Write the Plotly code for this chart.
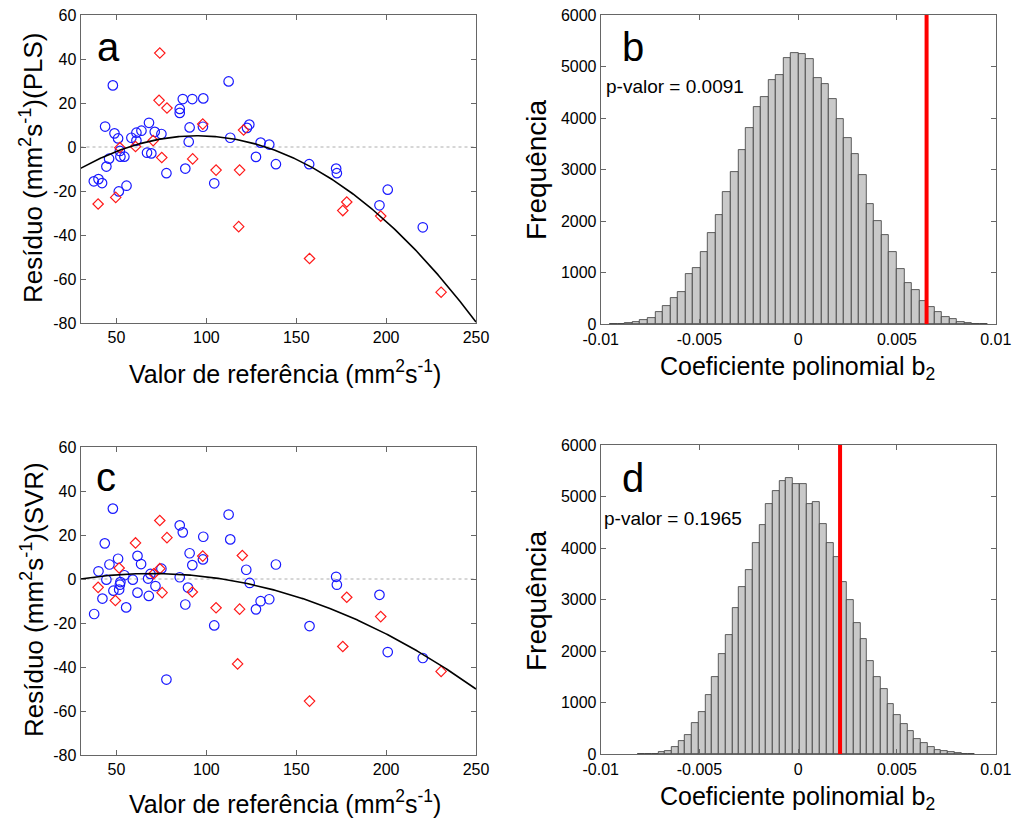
import numpy as np
import plotly.graph_objects as go

W, H = 1013, 819

# ---------------- Panel a (PLS residuals) ----------------
pls_blue_x = [48, 112.4, 86.9, 92.2, 98.3, 85.2, 85.2, 43.7, 48.9, 50.9, 68.1, 61.1, 63.9, 58.3, 61.1,
              71.3, 75, 90.7, 98.1, 90.2, 113.3, 122.6, 123.9, 130.2, 135, 127.6, 138.7, 157.2, 172.2,
              172.6, 67, 69.4, 51.9, 52.2, 54.4, 45.9, 44.4, 37.4, 40, 42, 55.6, 51.3, 77.8, 88.3,
              104.4, 196.3, 200.9, 220.4]
pls_blue_y = [28.0, 29.8, 21.8, 21.8, 22.1, 17.3, 15.5, 9.3, 6.2, 3.9, 11.0, 6.5, 7.4, 4.2, 2.9,
              6.9, 5.9, 8.9, 9.2, 2.4, 4.2, 8.7, 10.2, 2.0, 1.1, -4.5, -7.8, -7.8, -9.8,
              -11.9, -2.6, -2.9, -1.8, -4.4, -4.4, -5.3, -8.9, -15.6, -14.6, -16.4, -17.6, -20.2, -11.9, -9.8,
              -16.5, -26.5, -19.4, -36.5]
pls_red_x = [74.1, 73.7, 78.1, 98, 120.7, 70.4, 60.6, 51.9, 75.2, 92.4, 105.4, 118.5, 39.8, 49.6,
             118, 178.1, 175.9, 197, 157.4, 230.6]
pls_red_y = [42.7, 21.2, 17.7, 10.4, 7.7, 2.9, 0.2, -0.3, -4.8, -5.4, -10.5, -10.5, -25.9, -22.9,
             -36.2, -25.0, -28.9, -31.4, -50.7, -66.0]
pls_fit_coef = [-0.00352, 0.668, -26.6]   # b2, b1, b0

# ---------------- Panel c (SVR residuals) ----------------
svr_blue_x = [48, 112.4, 85.2, 86.9, 98.3, 113.3, 43.5, 90.7, 61.7, 50.9, 46.1, 63.7, 92.2, 98.1,
              138.7, 122.2, 75, 40, 54.4, 68.9, 67.6, 59.1, 44.4, 52.2, 51.9, 85.2, 172.2, 172.6,
              124.1, 71.7, 89.8, 48.3, 51.5, 61.7, 42.2, 68, 130.2, 135, 127.6, 55.4, 88.3, 37.6,
              104.4, 157.4, 196.3, 200.9, 220.4, 77.8]
svr_blue_y = [32.0, 29.3, 24.4, 21.2, 19.2, 18.0, 16.2, 11.7, 10.5, 9.2, 6.6, 6.8, 6.3, 8.9,
              6.6, 4.2, 4.7, 3.5, 1.7, 2.3, 0.2, -0.3, -0.3, -1.4, -2.6, 0.8, 1.0, -2.6,
              -1.8, -3.2, -3.9, -5.3, -4.8, -6.2, -8.9, -7.7, -10.1, -9.2, -13.8, -12.9, -11.6, -15.9,
              -21.1, -21.4, -7.2, -33.2, -35.9, -45.7]
svr_red_x = [74.1, 78.1, 60.6, 120, 98, 51.5, 74.1, 70.7, 39.8, 92.2, 75.4, 49.4, 105.4, 118.5,
             178.1, 197, 175.9, 117.4, 157.4, 230.6]
svr_red_y = [26.6, 18.8, 16.4, 10.7, 10.4, 5.0, 4.7, 2.4, -3.8, -5.9, -6.2, -9.8, -13.1, -13.7,
             -8.3, -17.1, -30.7, -38.6, -55.5, -42.0]
svr_fit_coef = [-0.00161, 0.2235, -5.26]

# ---------------- Panel b (permutation histogram, PLS) ----------------
hist_b_counts = [10, 13, 26, 45, 78, 123, 233, 356, 504, 634, 976, 1099, 1397, 1778, 2114, 2574,
                 2955, 3382, 3815, 4209, 4403, 4746, 4837, 5160, 5270, 5250, 5140, 4785, 4669, 4377,
                 3983, 3621, 3311, 2890, 2341, 2011, 1739, 1397, 1080, 808, 672, 459, 330, 239, 142,
                 97, 39, 26, 13, 6]
hist_b_start = -0.00953
hist_b_width = 0.000382
b_observed = 0.0065
b_label = "p-valor = 0.0091"

# ---------------- Panel d (permutation histogram, SVR) ----------------
hist_d_counts = [3, 8, 15, 45, 71, 136, 250, 381, 601, 821, 1144, 1500, 1940, 2315, 2832, 3246,
                 3576, 4099, 4442, 4862, 5108, 5296, 5360, 5237, 5250, 4856, 4888, 4468, 4093, 3821,
                 3349, 2987, 2541, 2244, 1811, 1494, 1274, 970, 756, 582, 446, 297, 213, 149, 91,
                 58, 39, 19, 13, 6]
hist_d_start = -0.00811
hist_d_width = 0.000341
d_observed = 0.00212
d_label = "p-valor = 0.1965"

scatter_xticks = [50, 100, 150, 200, 250]
scatter_yticks = [60, 40, 20, 0, -20, -40, -60, -80]
hist_xticks = [-0.01, -0.005, 0, 0.005, 0.01]
hist_xticktext = ["-0.01", "-0.005", "0", "0.005", "0.01"]
hist_yticks = [0, 1000, 2000, 3000, 4000, 5000, 6000]

FONT = "Liberation Sans, Arial, sans-serif"
AXC = "#666666"


def px(x):
    return x / W


def py(y):
    return 1 - y / H


fig = go.Figure()

# domains in pixels
dom = {
    "a": ((80.5, 476), (15, 323)),
    "b": ((600.7, 995.7), (15, 324.3)),
    "c": ((80.5, 476), (447, 755)),
    "d": ((600.7, 995.7), (445, 754.3)),
}
axmap = {"a": ("x", "y", ""), "b": ("x2", "y2", "2"), "c": ("x3", "y3", "3"), "d": ("x4", "y4", "4")}


def add_scatter_panel(key, bx, by, rx, ry, coef):
    xa, ya, _ = axmap[key]
    fig.add_trace(go.Scatter(x=[30, 250], y=[0, 0], mode="lines",
                             line=dict(color="#9a9a9a", width=0.8, dash="dot"),
                             xaxis=xa, yaxis=ya, showlegend=False, hoverinfo="skip"))
    fig.add_trace(go.Scatter(x=bx, y=by, mode="markers",
                             marker=dict(symbol="circle-open", size=9.5, color="#1a1aff",
                                         line=dict(width=1.2, color="#1a1aff")),
                             xaxis=xa, yaxis=ya, showlegend=False))
    fig.add_trace(go.Scatter(x=rx, y=ry, mode="markers",
                             marker=dict(symbol="diamond-open", size=8, color="#ff1a1a",
                                         line=dict(width=1.2, color="#ff1a1a")),
                             xaxis=xa, yaxis=ya, showlegend=False))
    xs = np.linspace(30, 250, 300)
    ys = np.polyval(coef, xs)
    fig.add_trace(go.Scatter(x=xs, y=ys, mode="lines", line=dict(color="black", width=1.6),
                             xaxis=xa, yaxis=ya, showlegend=False, hoverinfo="skip"))


def add_hist_panel(key, counts, start, width, obs):
    xa, ya, _ = axmap[key]
    counts = np.asarray(counts)
    centers = start + width * (np.arange(len(counts)) + 0.5)
    fig.add_trace(go.Bar(x=centers, y=counts, width=width,
                         marker=dict(color="#c9c9c9", line=dict(color="#3a3a3a", width=0.8)),
                         xaxis=xa, yaxis=ya, showlegend=False))
    fig.add_trace(go.Scatter(x=[obs, obs], y=[0, 6000], mode="lines",
                             line=dict(color="#ff0000", width=4),
                             xaxis=xa, yaxis=ya, showlegend=False, hoverinfo="skip"))


add_scatter_panel("a", pls_blue_x, pls_blue_y, pls_red_x, pls_red_y, pls_fit_coef)
add_hist_panel("b", hist_b_counts, hist_b_start, hist_b_width, b_observed)
add_scatter_panel("c", svr_blue_x, svr_blue_y, svr_red_x, svr_red_y, svr_fit_coef)
add_hist_panel("d", hist_d_counts, hist_d_start, hist_d_width, d_observed)

common = dict(showline=True, linecolor=AXC, linewidth=1, mirror="ticks", ticks="inside",
              ticklen=5, tickcolor=AXC, showgrid=False, zeroline=False, automargin=False,
              tickfont=dict(family=FONT, size=16, color="black"))

layout = dict(width=W, height=H, margin=dict(l=0, r=0, t=0, b=0, pad=0, autoexpand=False),
              paper_bgcolor="white", plot_bgcolor="white", bargap=0,
              font=dict(family=FONT, color="black"))

for key, (xa, ya, n) in axmap.items():
    (x0, x1), (y0, y1) = dom[key]
    xd = [px(x0), px(x1)]
    yd = [py(y1), py(y0)]
    if key in ("a", "c"):
        xopt = dict(range=[30, 250], tickvals=scatter_xticks,
                    ticktext=[str(v) for v in scatter_xticks])
        yopt = dict(range=[-80, 60], tickvals=scatter_yticks,
                    ticktext=[str(v) for v in scatter_yticks])
    else:
        xopt = dict(range=[-0.01, 0.01], tickvals=hist_xticks, ticktext=hist_xticktext)
        yopt = dict(range=[0, 6000], tickvals=hist_yticks,
                    ticktext=[str(v) for v in hist_yticks])
    layout["xaxis" + n] = dict(domain=xd, anchor=ya, **xopt, **common)
    layout["yaxis" + n] = dict(domain=yd, anchor=xa, **yopt, **common)

fig.update_layout(**layout)

ann = []


def text(x, y, s, size, angle=0, xanchor="center", yanchor="middle"):
    ann.append(dict(x=px(x), y=py(y), xref="paper", yref="paper", text=s, showarrow=False,
                    textangle=angle, xanchor=xanchor, yanchor=yanchor,
                    font=dict(family=FONT, size=size, color="black")))


# panel letters
text(95, 47, "a", 40, xanchor="left")
text(620, 47, "b", 40, xanchor="left")
text(94, 477, "c", 40, xanchor="left")
text(620, 478, "d", 40, xanchor="left")
# p-values
text(604, 87, b_label, 19, xanchor="left")
text(602, 518, d_label, 19, xanchor="left")
# axis titles
sup = "<sup>2</sup>s<sup>-1</sup>"
text(285, 372, "Valor de referência (mm" + sup + ")", 25)
text(285, 802, "Valor de referência (mm" + sup + ")", 25)
text(797, 368, "Coeficiente polinomial b<sub>2</sub>", 25)
text(797, 798, "Coeficiente polinomial b<sub>2</sub>", 25)
text(32, 168, "Resíduo (mm" + sup + ")(PLS)", 26, angle=-90)
text(32, 600, "Resíduo (mm" + sup + ")(SVR)", 26, angle=-90)
text(536, 170, "Frequência", 28, angle=-90)
text(536, 601, "Frequência", 28, angle=-90)

fig.update_layout(annotations=ann)
fig.write_html("out.html", config={"displayModeBar": False},
               post_script="document.body.style.margin='0px';document.body.style.overflow='hidden';")
